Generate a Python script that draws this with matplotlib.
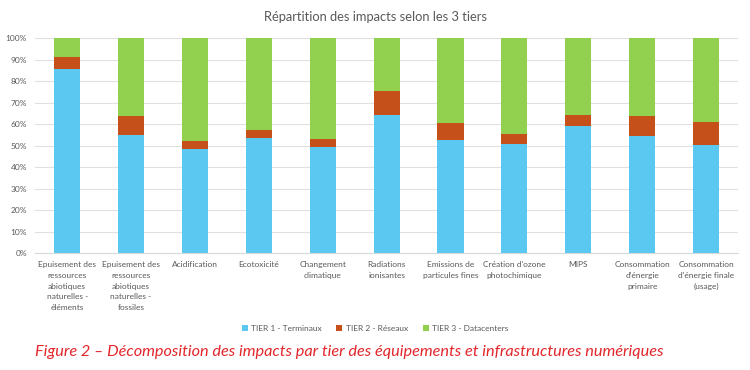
import matplotlib
matplotlib.use("Agg")
import matplotlib.pyplot as plt
import numpy as np

plt.rcParams['font.family'] = ['Lato', 'DejaVu Sans']

# Data (percent of each impact category)
categories = [
    "Epuisement des\nressources\nabiotiques\nnaturelles -\néléments",
    "Epuisement des\nressources\nabiotiques\nnaturelles -\nfossiles",
    "Acidification",
    "Ecotoxicité",
    "Changement\nclimatique",
    "Radiations\nionisantes",
    "Emissions de\nparticules fines",
    "Création d'ozone\nphotochimique",
    "MIPS",
    "Consommation\nd'énergie\nprimaire",
    "Consommation\nd'énergie finale\n(usage)",
]
tier1 = [85.8, 55.0, 48.2, 53.6, 49.5, 64.1, 52.5, 50.7, 58.9, 54.4, 50.5]
tier2 = [5.4, 8.8, 3.9, 3.7, 3.5, 11.2, 8.1, 4.9, 5.2, 9.3, 10.6]
tier3 = [8.8, 36.2, 47.9, 42.7, 47.0, 24.7, 39.4, 44.4, 35.9, 36.3, 38.9]
series_names = ["TIER 1 - Terminaux", "TIER 2 - Réseaux", "TIER 3 - Datacenters"]
colors = ["#5BC8F2", "#C5501A", "#92D050"]

fig = plt.figure(figsize=(7.5, 3.7), dpi=100)
ax = fig.add_axes([0.047, 0.316, 0.937, 0.581])

x = np.arange(len(categories))
w = 0.41
b1 = np.array(tier1)
b2 = b1 + np.array(tier2)
ax.bar(x, tier1, w, color=colors[0], label=series_names[0], zorder=3)
ax.bar(x, tier2, w, bottom=b1, color=colors[1], label=series_names[1], zorder=3)
ax.bar(x, tier3, w, bottom=b2, color=colors[2], label=series_names[2], zorder=3)

ax.set_xlim(-0.5, len(categories) - 0.5)
ax.set_ylim(0, 100)
ax.set_yticks(range(0, 101, 10))
ax.set_yticklabels([f"{v}%" for v in range(0, 101, 10)], fontsize=6, color="#595959")
ax.set_xticks(x)
ax.set_xticklabels(categories, fontsize=6, color="#595959", linespacing=1.6, va="top")
ax.tick_params(length=0)
ax.tick_params(axis="x", pad=6)
ax.tick_params(axis="y", pad=6)
ax.grid(axis="y", color="#E0E0E0", linewidth=0.8, zorder=0)
for s in ["top", "right", "left"]:
    ax.spines[s].set_visible(False)
ax.spines["bottom"].set_color("#D9D9D9")

fig.text(0.5, 0.955, "Répartition des impacts selon les 3 tiers", ha="center",
         va="center", fontsize=9.3, color="#595959")

fig.legend(loc="center", bbox_to_anchor=(0.5, 0.113), ncol=3, frameon=False,
           fontsize=6, handlelength=0.7, handleheight=0.7, columnspacing=1.8,
           handletextpad=0.4, labelcolor="#595959")

fig.text(0.047, 0.048, "Figure 2 – Décomposition des impacts par tier des équipements et infrastructures numériques",
         ha="left", va="center", fontsize=11.7, color="#E3262B", style="italic")

fig.savefig("out.png", dpi=100)
